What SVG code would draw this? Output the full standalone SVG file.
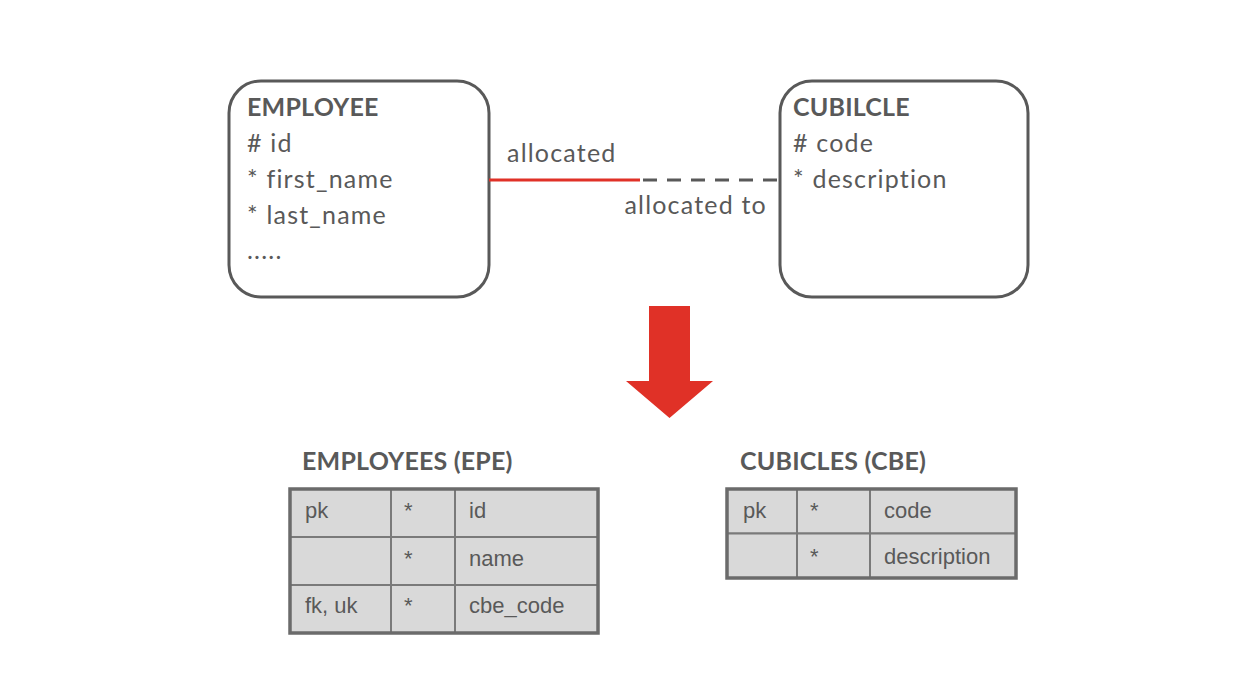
<svg xmlns="http://www.w3.org/2000/svg" width="1244" height="698" viewBox="0 0 1244 698">
<style>
.ent{fill:#fff;stroke:#595959;stroke-width:3}
.t{font-family:Lato,"Open Sans","Liberation Sans",sans-serif;fill:#595959;font-size:25px;letter-spacing:1.2px}
.b{font-weight:bold;letter-spacing:0.2px}
.cell{fill:#d9d9d9;stroke:#7a7a7a;stroke-width:2}
.outer{fill:none;stroke:#6b6b6b;stroke-width:3.5}
.ct{font-family:"Liberation Sans",Arial,sans-serif;fill:#595959;font-size:22px}
</style>
<rect width="1244" height="698" fill="#fff"/>
<g id="employee">
<rect class="ent" x="229" y="81" width="260" height="216" rx="32"/>
<text class="t b" x="247" y="116">EMPLOYEE</text>
<text class="t" x="247" y="152"># id</text>
<text class="t" x="247" y="188">* first_name</text>
<text class="t" x="247" y="224">* last_name</text>
<text class="t" x="247" y="259">.....</text>
</g>
<g id="cubicle">
<rect class="ent" x="780" y="81" width="248" height="216" rx="32"/>
<text class="t b" x="793" y="116">CUBILCLE</text>
<text class="t" x="793" y="152"># code</text>
<text class="t" x="793" y="188">* description</text>
</g>
<g id="connectors">
<line x1="489" y1="180" x2="640" y2="180" stroke="#e03127" stroke-width="3"/>
<line x1="643" y1="180" x2="780" y2="180" stroke="#595959" stroke-width="3" stroke-dasharray="14,10"/>
<text class="t" x="507" y="162">allocated</text>
<text class="t" x="767" y="214" text-anchor="end">allocated to</text>
<polygon points="649,306 690,306 690,381 713,381 669.5,418 626,381 649,381" fill="#e03127"/>
</g>
<g id="employees-table">
<text class="t b" x="302" y="470">EMPLOYEES (EPE)</text>
<rect class="cell" x="290" y="489" width="101" height="48"/>
<rect class="cell" x="391" y="489" width="64" height="48"/>
<rect class="cell" x="455" y="489" width="143" height="48"/>
<rect class="cell" x="290" y="537" width="101" height="48"/>
<rect class="cell" x="391" y="537" width="64" height="48"/>
<rect class="cell" x="455" y="537" width="143" height="48"/>
<rect class="cell" x="290" y="585" width="101" height="48"/>
<rect class="cell" x="391" y="585" width="64" height="48"/>
<rect class="cell" x="455" y="585" width="143" height="48"/>
<rect class="outer" x="290" y="489" width="308" height="144"/>
<text class="ct" x="305" y="518">pk</text>
<text class="ct" x="404" y="518">*</text>
<text class="ct" x="469" y="518">id</text>
<text class="ct" x="404" y="566">*</text>
<text class="ct" x="469" y="566">name</text>
<text class="ct" x="305" y="613">fk, uk</text>
<text class="ct" x="404" y="613">*</text>
<text class="ct" x="469" y="613">cbe_code</text>
</g>
<g id="cubicles-table">
<text class="t b" x="740" y="470">CUBICLES (CBE)</text>
<rect class="cell" x="727" y="489" width="70" height="44.5"/>
<rect class="cell" x="797" y="489" width="73" height="44.5"/>
<rect class="cell" x="870" y="489" width="146" height="44.5"/>
<rect class="cell" x="727" y="533.5" width="70" height="44.5"/>
<rect class="cell" x="797" y="533.5" width="73" height="44.5"/>
<rect class="cell" x="870" y="533.5" width="146" height="44.5"/>
<rect class="outer" x="727" y="489" width="289" height="89"/>
<text class="ct" x="743" y="518">pk</text>
<text class="ct" x="810" y="518">*</text>
<text class="ct" x="884" y="518">code</text>
<text class="ct" x="810" y="564">*</text>
<text class="ct" x="884" y="564">description</text>
</g>
</svg>
